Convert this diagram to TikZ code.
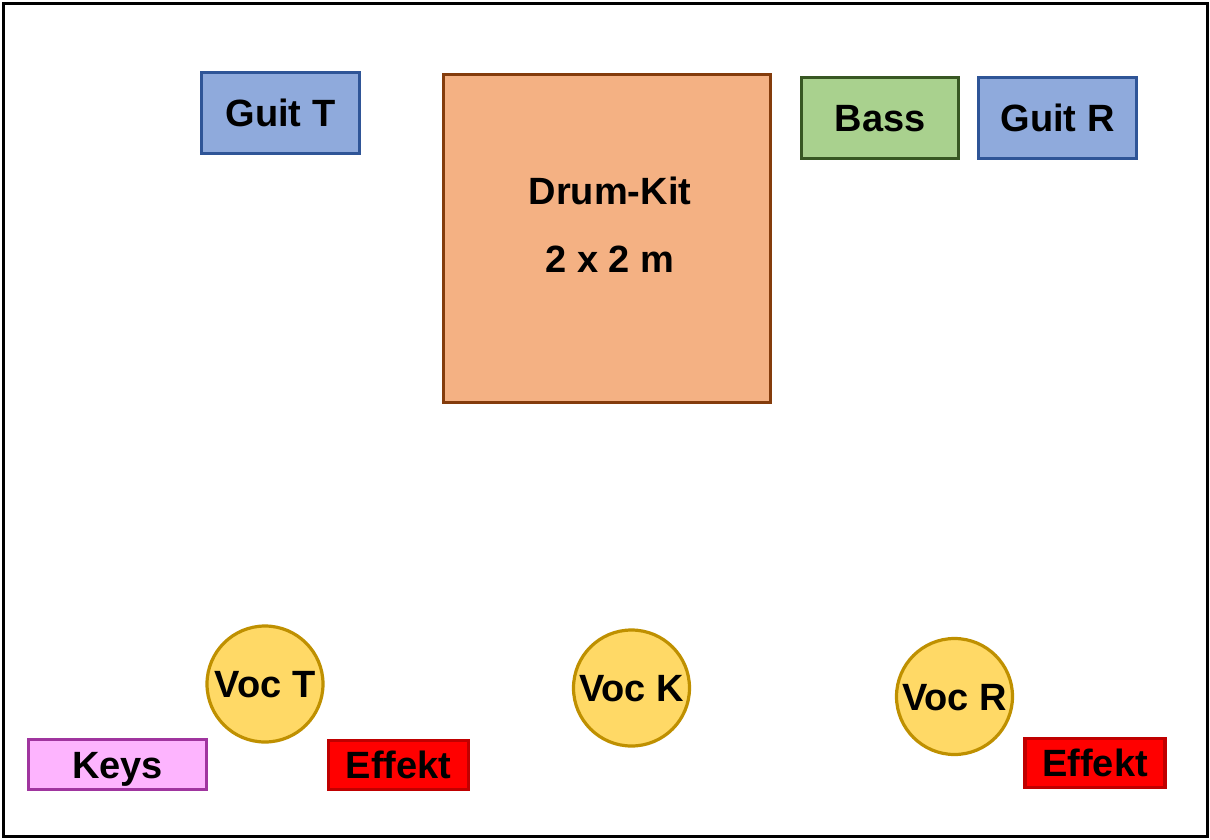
\documentclass[tikz,border=0pt]{standalone}
\usepackage{fontspec}
\setmainfont{Liberation Sans}
\definecolor{guitfill}{HTML}{8FAADC}
\definecolor{guitline}{HTML}{2F5597}
\definecolor{drumfill}{HTML}{F4B183}
\definecolor{drumline}{HTML}{843C0C}
\definecolor{bassfill}{HTML}{A9D18E}
\definecolor{bassline}{HTML}{385723}
\definecolor{vocfill}{HTML}{FFD966}
\definecolor{vocline}{HTML}{BF9000}
\definecolor{keysfill}{HTML}{FDB4FE}
\definecolor{keysline}{HTML}{A0359F}
\definecolor{fxfill}{HTML}{FF0000}
\definecolor{fxline}{HTML}{C00000}
\tikzset{
  lbl/.style={font=\fontsize{38}{45}\selectfont\bfseries, text height=27pt, text depth=0pt, inner sep=0pt},
  box/.style={lbl, rectangle, line width=3.2pt},
  guit/.style={box, draw=guitline, fill=guitfill, minimum width=158pt, minimum height=81pt},
  bassbox/.style={box, draw=bassline, fill=bassfill, minimum width=157pt, minimum height=81pt},
  drumbox/.style={rectangle, line width=3.2pt, draw=drumline, fill=drumfill, minimum width=327pt, minimum height=328pt, inner sep=0pt},
  voc/.style={lbl, circle, line width=3.2pt, draw=vocline, fill=vocfill, minimum size=116pt},
  keysbox/.style={box, draw=keysline, fill=keysfill, minimum width=178pt, minimum height=50pt},
  fx/.style={box, draw=fxline, fill=fxfill, minimum width=140pt, minimum height=49pt},
}
\begin{document}
\begin{tikzpicture}[x=1pt,y=-1pt]
\useasboundingbox (0,0) rectangle (1210,839);
\draw[line width=3pt, black] (3,3) rectangle (1207,836);
\node[guit] (guitT) at (280.5,113) {Guit T};
\node[drumbox] (drum) at (607,238.5) {};
\node[lbl] (drumname) at (610,191) {Drum-Kit};
\node[lbl] (drumsize) at (610,259) {2 x 2 m};
\node[bassbox] (bass) at (880,118) {Bass};
\node[guit] (guitR) at (1057.5,118) {Guit R};
\node[voc] (vocT) at (265,684) {Voc T};
\node[voc] (vocK) at (631.5,688) {Voc K};
\node[voc] (vocR) at (954.5,696.5) {Voc R};
\node[keysbox] (keys) at (117.5,764.5) {Keys};
\node[fx] (fxT) at (398.5,765) {Effekt};
\node[fx] (fxR) at (1095,763) {Effekt};
\end{tikzpicture}
\end{document}
